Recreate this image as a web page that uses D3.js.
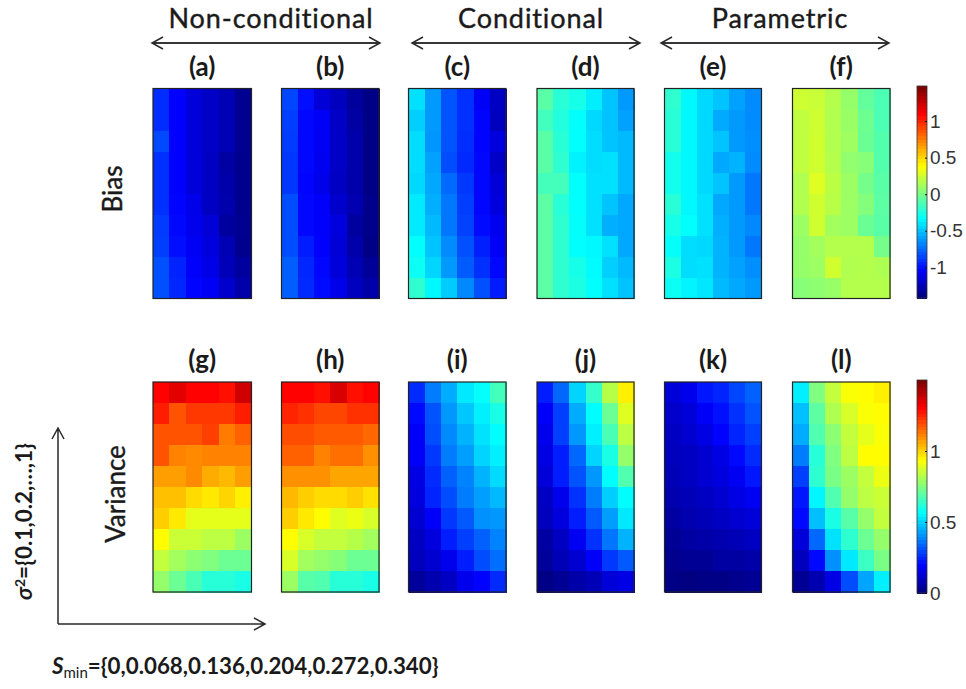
<!DOCTYPE html>
<html>
<head>
<meta charset="utf-8">
<script src="https://cdn.jsdelivr.net/npm/d3@7"></script>
<style>
html, body { margin: 0; padding: 0; background: #fff; }
svg { display: block; }
text { font-family: Lato, "Open Sans", sans-serif; fill: #1a1a1a; }
</style>
</head>
<body>
<svg id="chart" width="966" height="689"></svg>
<script>
var rows = [1, 0.9, 0.8, 0.7, 0.6, 0.5, 0.4, 0.3, 0.2, 0.1];
var cols = [0, 0.068, 0.136, 0.204, 0.272, 0.34];

var bias_a = [
	[-.93,-1.06,-1.16,-1.22,-1.27,-1.37],
	[-.93,-1.06,-1.16,-1.22,-1.27,-1.37],
	[-.85,-1.06,-1.16,-1.22,-1.27,-1.37],
	[-.92,-1.06,-1.16,-1.23,-1.32,-1.38],
	[-.92,-1.06,-1.16,-1.23,-1.3,-1.38],
	[-.92,-1.05,-1.12,-1.23,-1.29,-1.38],
	[-.89,-1.04,-1.11,-1.17,-1.33,-1.37],
	[-.88,-1.02,-1.09,-1.15,-1.27,-1.38],
	[-.83,-.96,-1.07,-1.13,-1.26,-1.33],
	[-.83,-.95,-1.05,-1.09,-1.2,-1.3]
];
var bias_b = [
	[-.86,-1.02,-1.17,-1.24,-1.34,-1.4],
	[-.88,-1.04,-1.08,-1.22,-1.32,-1.4],
	[-.89,-1.04,-1.09,-1.22,-1.3,-1.4],
	[-.9,-1.04,-1.1,-1.22,-1.3,-1.4],
	[-.9,-1.05,-1.12,-1.23,-1.3,-1.4],
	[-.84,-1.04,-1.07,-1.2,-1.28,-1.39],
	[-.84,-1.04,-1.07,-1.15,-1.33,-1.39],
	[-.84,-.98,-1.06,-1.17,-1.3,-1.4],
	[-.79,-.95,-1.04,-1.16,-1.27,-1.35],
	[-.79,-.94,-1.03,-1.12,-1.24,-1.3]
];
var bias_c = [
	[-.42,-.62,-.82,-.92,-1.08,-1.23],
	[-.47,-.62,-.82,-.92,-1.05,-1.24],
	[-.43,-.63,-.82,-.93,-1.05,-1.15],
	[-.43,-.6,-.84,-.94,-1.04,-1.22],
	[-.44,-.58,-.76,-.9,-1.04,-1.17],
	[-.39,-.56,-.72,-.88,-1.04,-1.15],
	[-.39,-.53,-.72,-.87,-1.03,-1.1],
	[-.33,-.5,-.66,-.83,-.97,-1.08],
	[-.3,-.45,-.62,-.8,-.92,-1.04],
	[-.2,-.35,-.48,-.67,-.83,-.98]
];
var bias_d = [
	[-.08,-.22,-.27,-.38,-.5,-.62],
	[-.15,-.24,-.33,-.44,-.5,-.6],
	[-.08,-.22,-.33,-.43,-.5,-.53],
	[-.08,-.2,-.37,-.43,-.42,-.53],
	[-.14,-.14,-.33,-.42,-.42,-.53],
	[-.07,-.22,-.33,-.42,-.5,-.58],
	[-.07,-.2,-.32,-.42,-.56,-.58],
	[-.07,-.2,-.33,-.35,-.42,-.58],
	[-.07,-.2,-.27,-.34,-.47,-.53],
	[-.07,-.2,-.25,-.33,-.42,-.5]
];
var bias_e = [
	[-.2,-.35,-.44,-.5,-.6,-.66],
	[-.22,-.35,-.44,-.57,-.62,-.66],
	[-.22,-.35,-.44,-.5,-.62,-.65],
	[-.28,-.35,-.44,-.58,-.55,-.66],
	[-.28,-.35,-.44,-.5,-.62,-.72],
	[-.22,-.35,-.42,-.58,-.62,-.72],
	[-.27,-.33,-.42,-.56,-.62,-.67],
	[-.32,-.43,-.44,-.55,-.62,-.72],
	[-.25,-.43,-.42,-.55,-.6,-.65],
	[-.3,-.36,-.4,-.53,-.58,-.62]
];
var bias_f = [
	[.25,.24,.18,.09,-.05,-.12],
	[.21,.25,.17,.1,-.02,-.12],
	[.21,.26,.17,.12,-.03,-.1],
	[.21,.26,.18,.08,.05,-.1],
	[.17,.3,.2,.11,0,-.08],
	[.17,.26,.19,.11,.04,-.07],
	[.11,.26,.13,.11,-.03,-.08],
	[.09,.13,.18,.18,.18,0],
	[.09,.11,.26,.17,.18,.16],
	[.05,.07,.1,.18,.18,.18]
];
var var_g = [
	[1.31,1.35,1.31,1.31,1.29,1.38],
	[1.27,1.19,1.23,1.23,1.23,1.27],
	[1.19,1.19,1.19,1.22,1.13,1.17],
	[1.19,1.12,1.11,1.12,1.12,1.12],
	[1.08,1.08,1.11,1.06,1.04,1.08],
	[1.03,1.03,.99,.97,1,.96],
	[1.01,.97,.9,.9,.9,.9],
	[.94,.86,.86,.84,.84,.79],
	[.85,.8,.77,.75,.72,.72],
	[.78,.72,.67,.62,.62,.6]
];
var var_h = [
	[1.31,1.31,1.29,1.37,1.29,1.31],
	[1.26,1.24,1.21,1.21,1.24,1.24],
	[1.2,1.2,1.18,1.18,1.18,1.16],
	[1.17,1.17,1.12,1.15,1.15,1.1],
	[1.1,1.1,1.1,1.07,1.07,1.07],
	[1.04,1.01,.99,.99,1.01,.98],
	[1.01,.97,.94,.89,.91,.88],
	[.94,.88,.85,.85,.83,.8],
	[.88,.8,.78,.76,.72,.72],
	[.79,.69,.68,.62,.62,.6]
];
var var_i = [
	[.25,.37,.44,.53,.57,.66],
	[.2,.31,.41,.48,.54,.6],
	[.18,.3,.39,.45,.52,.56],
	[.18,.27,.37,.42,.5,.54],
	[.15,.25,.33,.38,.45,.51],
	[.14,.24,.3,.37,.42,.46],
	[.12,.18,.27,.32,.4,.41],
	[.1,.14,.23,.28,.33,.38],
	[.09,.12,.16,.23,.3,.35],
	[.04,.07,.1,.16,.19,.25]
];
var var_j = [
	[.23,.34,.5,.64,.83,.96],
	[.18,.28,.44,.56,.72,.89],
	[.16,.28,.41,.54,.67,.84],
	[.15,.23,.34,.5,.6,.78],
	[.13,.23,.31,.41,.56,.68],
	[.1,.16,.26,.37,.49,.56],
	[.09,.14,.23,.32,.42,.53],
	[.05,.1,.17,.26,.36,.45],
	[.04,.08,.12,.18,.27,.32],
	[.01,.03,.06,.08,.13,.15]
];
var var_k = [
	[.13,.16,.22,.24,.29,.33],
	[.11,.13,.18,.21,.26,.31],
	[.1,.12,.15,.19,.24,.28],
	[.09,.1,.12,.15,.2,.25],
	[.08,.1,.12,.14,.17,.22],
	[.07,.08,.1,.12,.15,.17],
	[.05,.07,.08,.1,.12,.13],
	[.03,.05,.06,.07,.08,.1],
	[.02,.03,.03,.05,.05,.06],
	[.01,0,.01,.01,.02,.03]
];
var var_l = [
	[.54,.75,.85,.93,.94,.96],
	[.47,.7,.82,.88,.93,.94],
	[.44,.68,.77,.85,.9,.93],
	[.37,.62,.75,.84,.94,.94],
	[.28,.63,.74,.79,.85,.91],
	[.22,.55,.68,.78,.84,.86],
	[.2,.47,.6,.69,.78,.85],
	[.13,.34,.52,.63,.72,.78],
	[.09,.2,.4,.53,.65,.74],
	[.03,.07,.15,.3,.43,.54]
];

var biasNames = ["(a)", "(b)", "(c)", "(d)", "(e)", "(f)"];
var varNames = ["(g)", "(h)", "(i)", "(j)", "(k)", "(l)"];
var biasPanels = [bias_a, bias_b, bias_c, bias_d, bias_e, bias_f];
var varPanels = [var_g, var_h, var_i, var_j, var_k, var_l];
var biasDomain = [-1.42, 1.48];
var varDomain = [0, 1.5];
var biasTicks = [-1, -0.5, 0, 0.5, 1];
var varTicks = [0, 0.5, 1];
var groupNames = ["Non-conditional", "Conditional", "Parametric"];

var panelX = [[153, 251.5], [281.5, 379], [408.5, 506], [537, 634], [664.5, 761.5], [792.5, 890]];
var svg = d3.select("#chart");

// matlab style jet
function jet(t){
	var r = Math.min(4 * t - 1.5, -4 * t + 4.5);
	var g = Math.min(4 * t - 0.5, -4 * t + 3.5);
	var b = Math.min(4 * t + 0.5, -4 * t + 2.5);
	function c(v){ return Math.round(255 * Math.max(0, Math.min(1, v))); }
	return "rgb(" + c(r) + "," + c(g) + "," + c(b) + ")";
}

function drawPanel(values, name, xr, yr, color){
	var x = d3.scaleBand().domain(d3.range(cols.length)).range(xr);
	var y = d3.scaleBand().domain(d3.range(rows.length)).range(yr);
	var g = svg.append("g");
	values.forEach(function(row, i){
		g.selectAll(null).data(row).enter().append("rect")
			.attr("x", function(d, j){ return x(j); })
			.attr("y", y(i))
			.attr("width", x.bandwidth() + 0.5)
			.attr("height", y.bandwidth() + 0.5)
			.attr("shape-rendering", "crispEdges")
			.attr("fill", function(d){ return color(d); });
	});
	g.append("rect")
		.attr("x", xr[0]).attr("y", yr[0])
		.attr("width", xr[1] - xr[0]).attr("height", yr[1] - yr[0])
		.attr("fill", "none").attr("stroke", "#222").attr("stroke-width", 1.2);
	svg.append("text")
		.attr("x", (xr[0] + xr[1]) / 2).attr("y", yr[0] - 13)
		.attr("text-anchor", "middle")
		.style("font-size", "26px").style("font-weight", 700)
		.text(name);
}

function drawColorbar(domain, tickValues, yr, color){
	var x0 = 917, x1 = 927;
	var y = d3.scaleLinear().domain(domain).range([yr[1], yr[0]]);
	var steps = d3.range(64).map(function(i){
		return domain[0] + (domain[1] - domain[0]) * i / 63;
	});
	var h = (yr[1] - yr[0]) / 64;
	svg.append("g").selectAll("rect").data(steps).enter().append("rect")
		.attr("x", x0).attr("width", x1 - x0)
		.attr("y", function(d, i){ return yr[1] - (i + 1) * h; })
		.attr("height", h + 0.5)
		.attr("shape-rendering", "crispEdges")
		.attr("fill", function(d){ return color(d); });
	svg.append("rect")
		.attr("x", x0).attr("y", yr[0]).attr("width", x1 - x0).attr("height", yr[1] - yr[0])
		.attr("fill", "none").attr("stroke", "#333").attr("stroke-width", 0.8);
	var axis = d3.axisRight(y).tickValues(tickValues).tickSize(-2).tickPadding(3)
		.tickFormat(function(d){ return String(d); });
	var a = svg.append("g").attr("transform", "translate(" + x1 + ",0)").call(axis);
	a.select(".domain").remove();
	a.selectAll("line").attr("stroke", "#111");
	a.selectAll("text").style("font-family", "'Liberation Sans', sans-serif")
		.style("font-size", "19px").style("fill", "#333");
}

function arrowHead(x, y, dx, dy){
	// open chevron pointing along dx,dy
	var s = 11, w = 6;
	return "M" + (x - dx * s + dy * w) + "," + (y - dy * s + dx * w) + "L" + x + "," + y +
		"L" + (x - dx * s - dy * w) + "," + (y - dy * s - dx * w);
}

function arrow(x1, y1, x2, y2){
	var len = Math.sqrt(Math.pow(x2 - x1, 2) + Math.pow(y2 - y1, 2));
	var dx = (x2 - x1) / len, dy = (y2 - y1) / len;
	svg.append("path")
		.attr("d", "M" + x1 + "," + y1 + "L" + x2 + "," + y2 + arrowHead(x2, y2, dx, dy))
		.attr("fill", "none").attr("stroke", "#2a2a2a").attr("stroke-width", 1.5);
}

var biasColor = d3.scaleSequential(jet).domain(biasDomain);
var varColor = d3.scaleSequential(jet).domain(varDomain);

biasPanels.forEach(function(p, i){ drawPanel(p, biasNames[i], panelX[i], [88.5, 298.5], biasColor); });
varPanels.forEach(function(p, i){ drawPanel(p, varNames[i], panelX[i], [382, 592], varColor); });
drawColorbar(biasDomain, biasTicks, [86, 298], biasColor);
drawColorbar(varDomain, varTicks, [380, 593], varColor);

// group headers with double arrows
var groupSpan = [[152, 380], [412, 640], [661, 889]];
var groupText = [271, 531, 780];
groupNames.forEach(function(n, i){
	svg.append("text").attr("x", groupText[i]).attr("y", 27.5).attr("text-anchor", "middle")
		.style("font-size", "27px").style("letter-spacing", "0.9px")
		.style("stroke", "#1a1a1a").style("stroke-width", 0.4).text(n);
	arrow(groupSpan[i][0], 43, groupSpan[i][1], 43);
	arrow(groupSpan[i][1], 43, groupSpan[i][0], 43);
});

svg.append("text").attr("transform", "translate(122,189) rotate(-90)")
	.attr("text-anchor", "middle").style("font-size", "26px").style("stroke", "#1a1a1a").style("stroke-width", 0.4).text("Bias");
svg.append("text").attr("transform", "translate(125,494) rotate(-90)")
	.attr("text-anchor", "middle").style("font-size", "26px").style("stroke", "#1a1a1a").style("stroke-width", 0.4).text("Variance");

// axes in the lower left corner
arrow(58, 624, 58, 428);
arrow(58, 624, 265, 624);

var sigma = svg.append("text").attr("transform", "translate(32,600) rotate(-90)")
	.style("font-size", "22.5px").style("font-weight", 700);
sigma.append("tspan").style("font-style", "italic").text("σ");
sigma.append("tspan").attr("dy", -7).style("font-size", "14px").text("2");
sigma.append("tspan").attr("dy", 7).text("={0.1,0.2,…,1}");

var smin = svg.append("text").attr("x", 52).attr("y", 674)
	.style("font-size", "22.3px").style("font-weight", 700);
smin.append("tspan").style("font-style", "italic").text("S");
smin.append("tspan").attr("dy", 4).style("font-size", "15px").style("font-weight", 400).text("min");
smin.append("tspan").attr("dy", -4).text("={0,0.068,0.136,0.204,0.272,0.340}");
</script>
</body>
</html>
